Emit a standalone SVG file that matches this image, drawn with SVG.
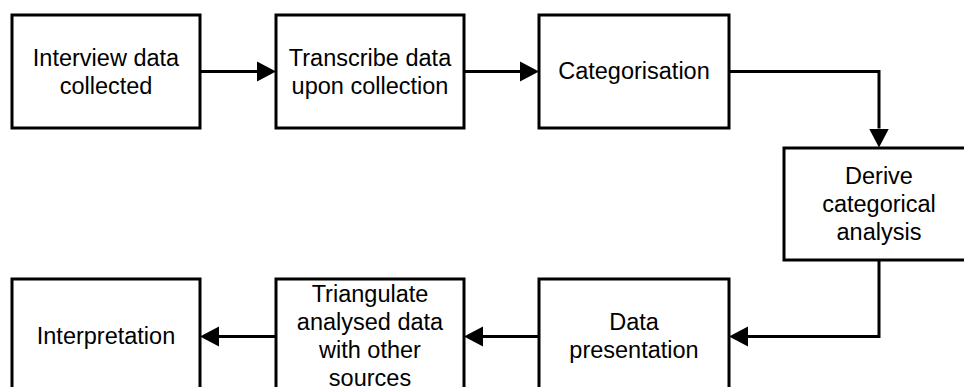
<svg xmlns="http://www.w3.org/2000/svg" width="964" height="387" viewBox="0 0 964 387">
<style>
.box{fill:#fff;stroke:#000;stroke-width:3}
.lbl{font-family:"Liberation Sans",Arial,sans-serif;font-size:23.5px;fill:#000;text-anchor:middle}
.conn{fill:none;stroke:#000;stroke-width:3}
</style>
<defs>
<marker id="arr" markerUnits="userSpaceOnUse" markerWidth="20" markerHeight="21" refX="0" refY="10" orient="auto" viewBox="0 0 20 20">
<path d="M0,0 L19,10 L0,20 z" fill="#000"/>
</marker>
</defs>
<rect width="964" height="387" fill="#fff"/>
<g id="connectors">
<path class="conn" d="M200,71.5 H257" marker-end="url(#arr)"/>
<path class="conn" d="M464,71.5 H520" marker-end="url(#arr)"/>
<path class="conn" d="M729,71.5 H879 V128.5" marker-end="url(#arr)"/>
<path class="conn" d="M879,260 V336.5 H748" marker-end="url(#arr)"/>
<path class="conn" d="M539,336.5 H483" marker-end="url(#arr)"/>
<path class="conn" d="M276,336.5 H219" marker-end="url(#arr)"/>
</g>
<g id="n1">
<rect class="box" x="12" y="15" width="188" height="113"/>
<text class="lbl" x="106" y="65.5">Interview data</text>
<text class="lbl" x="106" y="93.5">collected</text>
</g>
<g id="n2">
<rect class="box" x="276" y="15" width="188" height="113"/>
<text class="lbl" x="370" y="65.5">Transcribe data</text>
<text class="lbl" x="370" y="93.5">upon collection</text>
</g>
<g id="n3">
<rect class="box" x="539" y="15" width="190" height="113"/>
<text class="lbl" x="634" y="78.5">Categorisation</text>
</g>
<g id="n4">
<rect class="box" x="784" y="148" width="190" height="112"/>
<text class="lbl" x="879" y="183.5">Derive</text>
<text class="lbl" x="879" y="211.5">categorical</text>
<text class="lbl" x="879" y="239.5">analysis</text>
</g>
<g id="n5">
<rect class="box" x="539" y="279" width="190" height="113"/>
<text class="lbl" x="634" y="329.5">Data</text>
<text class="lbl" x="634" y="357.5">presentation</text>
</g>
<g id="n6">
<rect class="box" x="276" y="279" width="188" height="113"/>
<text class="lbl" x="370" y="301.5">Triangulate</text>
<text class="lbl" x="370" y="329.5">analysed data</text>
<text class="lbl" x="370" y="357.5">with other</text>
<text class="lbl" x="370" y="385.5">sources</text>
</g>
<g id="n7">
<rect class="box" x="12" y="279" width="188" height="113"/>
<text class="lbl" x="106" y="343.5">Interpretation</text>
</g>
</svg>
